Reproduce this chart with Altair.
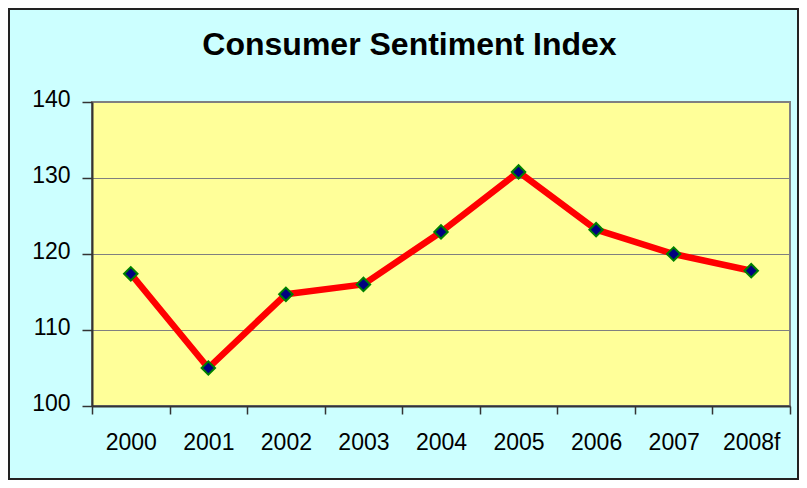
import altair as alt
import pandas as pd

years = ["2000", "2001", "2002", "2003", "2004", "2005", "2006", "2007", "2008f"]
index_values = [117.4, 105.0, 114.7, 116.0, 122.9, 130.8, 123.2, 120.0, 117.8]
y_ticks = [100, 110, 120, 130, 140]
title_text = ["Consumer Sentiment Index"]

df = pd.DataFrame({"year": years, "value": index_values})
frame_df = pd.DataFrame({"k": [0]})
title_df = pd.DataFrame({"t": title_text})

FONT = "Liberation Sans"
W, H = 698, 304
PAD = {"left": 84, "top": 94, "right": 9, "bottom": 74}

x_enc = alt.X(
    "year:N",
    sort=years,
    title=None,
    bandPosition=0.5,
    scale=alt.Scale(type="band", paddingInner=0, paddingOuter=0),
    axis=alt.Axis(
        labelAngle=0,
        tickBand="extent",
        tickSize=8,
        tickColor="#333333",
        tickWidth=1.5,
        domainColor="#333333",
        domainWidth=2,
        labelFont=FONT,
        labelFontSize=23,
        labelColor="black",
        labelBaseline="alphabetic",
        labelPadding=35,
        grid=False,
    ),
)
y_enc = alt.Y(
    "value:Q",
    title=None,
    scale=alt.Scale(domain=[100, 140], nice=False, zero=False),
    axis=alt.Axis(
        values=y_ticks,
        tickSize=10,
        tickColor="#333333",
        tickWidth=1.5,
        domainColor="#333333",
        domainWidth=2,
        labelFont=FONT,
        labelFontSize=23,
        labelColor="black",
        labelPadding=12,
        labelOffset=-3,
        grid=True,
        gridColor="#808080",
        gridWidth=1,
    ),
)

base = alt.Chart(df).encode(x=x_enc, y=y_enc)
line = base.mark_line(color="#FF0000", strokeWidth=6.5, strokeJoin="round")
points = base.mark_point(
    shape="diamond", size=180, filled=True, fill="#000080",
    stroke="#008000", strokeWidth=2, opacity=1,
)

frame = alt.Chart(frame_df).mark_rect(
    fill="transparent", stroke="#222222", strokeWidth=2
).encode(
    x=alt.value(-PAD["left"] + 1),
    x2=alt.value(W + PAD["right"] - 1),
    y=alt.value(-PAD["top"] + 1),
    y2=alt.value(H + PAD["bottom"] - 1),
)

title = alt.Chart(title_df).mark_text(
    font=FONT, fontSize=32, fontWeight="bold", color="black",
    align="center", baseline="alphabetic",
).encode(
    text="t:N",
    x=alt.value(317.5),
    y=alt.value(-47),
)

chart = (
    alt.layer(line, points, frame, title)
    .properties(
        width=W,
        height=H,
        autosize=alt.AutoSizeParams(type="none"),
        padding=PAD,
        background="#CCFFFF",
    )
    .configure_view(fill="#FFFF99", stroke="#808080", strokeWidth=2)
)

chart.save("out.html", embed_options={"renderer": "svg", "actions": False})
